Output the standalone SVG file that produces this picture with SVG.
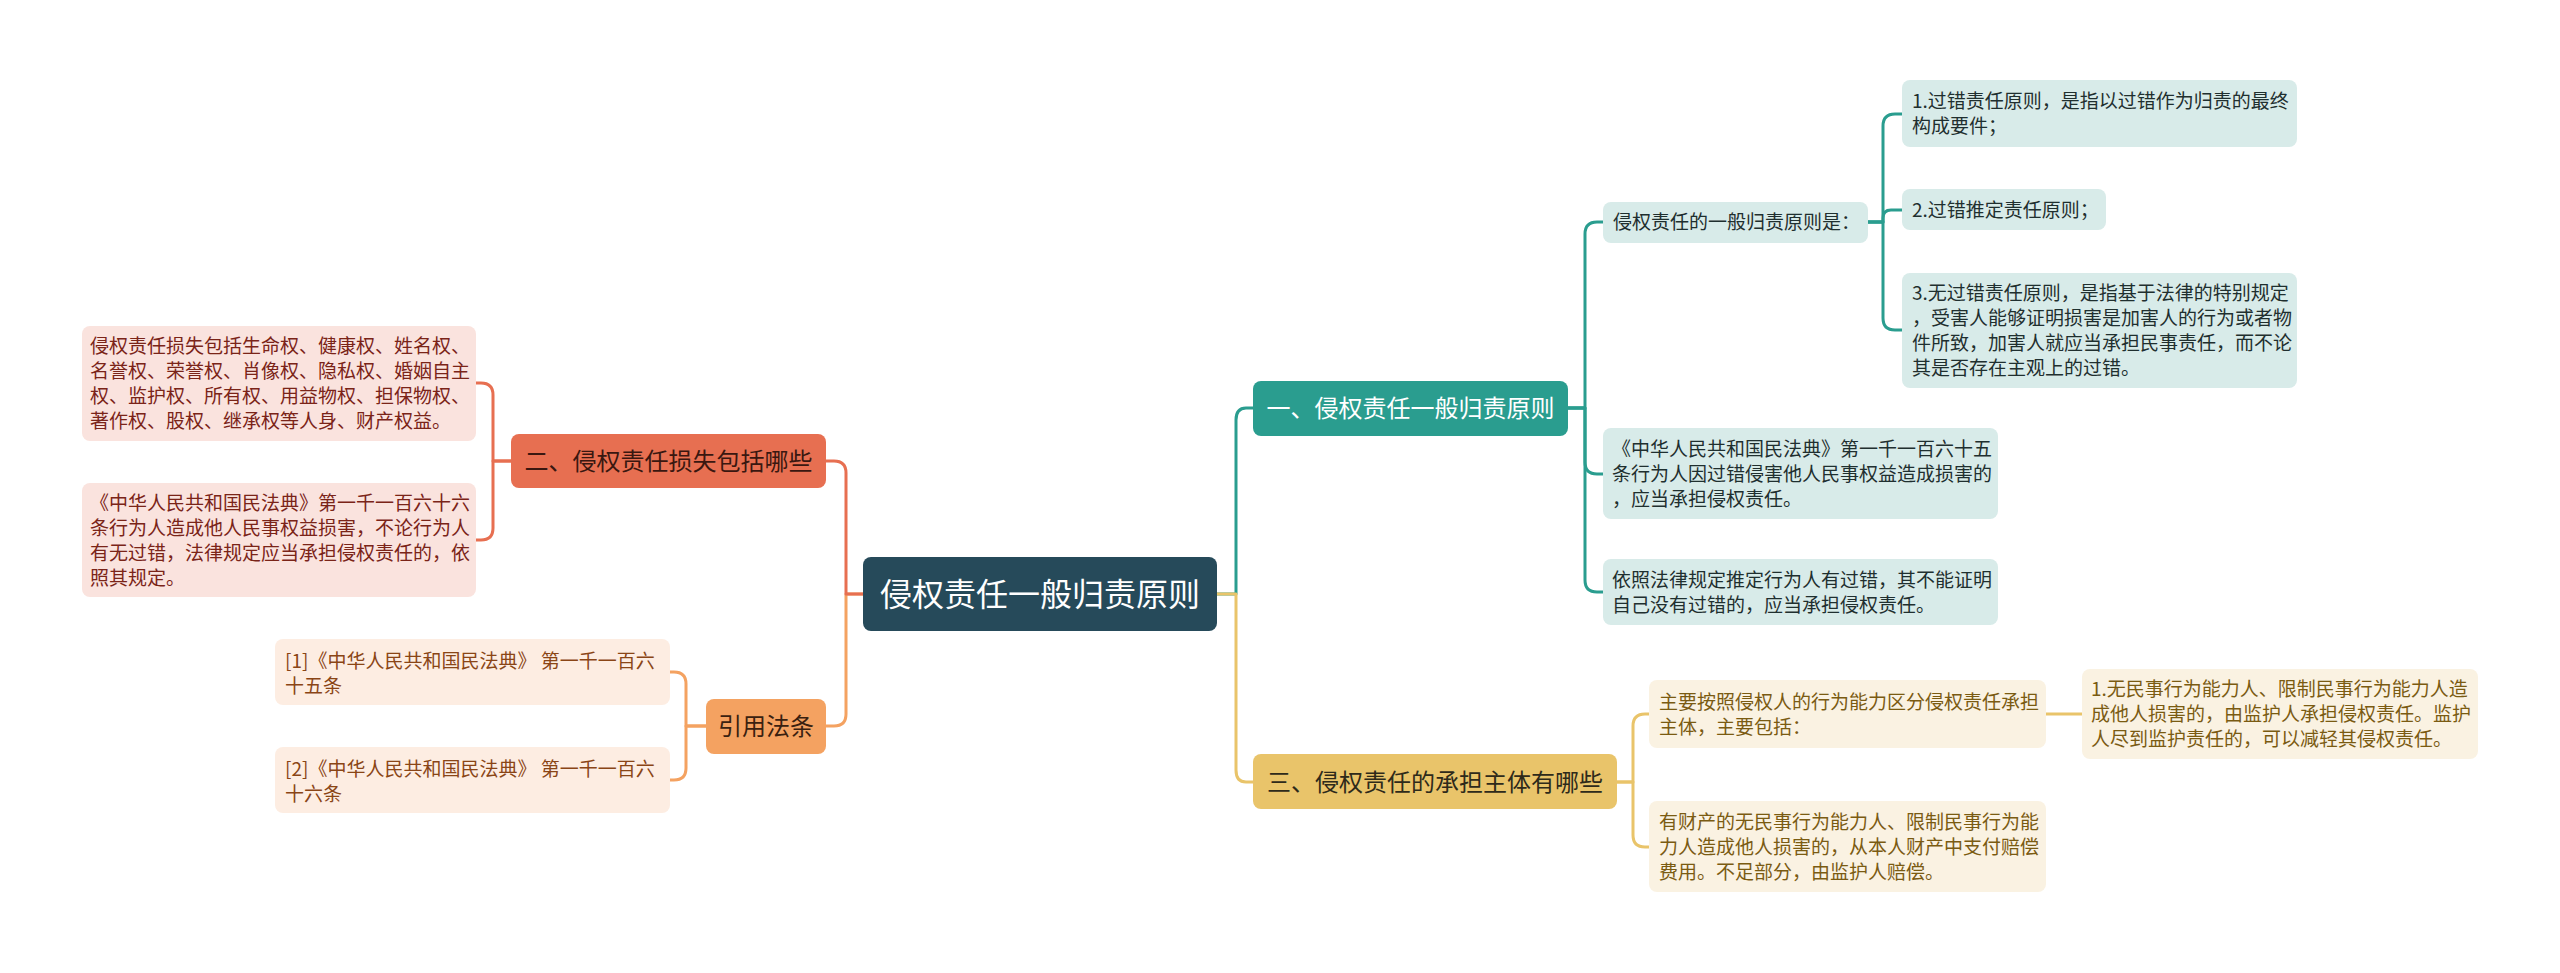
<svg xmlns="http://www.w3.org/2000/svg" width="2560" height="973" viewBox="0 0 2560 973">
<style>
text{font-family:"Noto Sans CJK SC","Noto Sans",sans-serif;}
.leaf{font-size:19px;}
.br{font-size:24px;text-anchor:middle;}
.root{font-size:32px;text-anchor:middle;fill:#ffffff;}
.c{fill:none;stroke-width:3;stroke-linecap:round;stroke-linejoin:round;}
.ct{stroke:#2a9d8f;}
.cy{stroke:#e9c46a;}
.cr{stroke:#e76f51;}
.co{stroke:#f4a261;}
.lt{fill:#d8ebe9;}
.ly{fill:#faf2e2;}
.lr{fill:#fae3de;}
.lo{fill:#fdede2;}
.tt{fill:#1f2f2f;}
.ty{fill:#7a5b12;}
.tr{fill:#7a2418;}
.to{fill:#8a4516;}
</style>
<rect width="2560" height="973" fill="#ffffff"/>
<g id="connectors">
<path class="c co" d="M863 594 H846 V714 Q846 726 834 726 H826"/>
<path class="c cr" d="M863 594 H846 V473 Q846 461 834 461 H826"/>
<path class="c ct" d="M1217 594 H1236 V420 Q1236 408 1246 408 H1253"/>
<path class="c cy" d="M1217 594 H1236 V770 Q1236 782 1246 782 H1253"/>
<path class="c ct" d="M1568 408 H1585 V234 Q1585 222 1597 222 H1603"/>
<path class="c ct" d="M1568 408 H1585 V462 Q1585 474 1597 474 H1603"/>
<path class="c ct" d="M1568 408 H1585 V580 Q1585 592 1597 592 H1603"/>
<path class="c ct" d="M1868 222 H1883 V126 Q1883 114 1895 114 H1902"/>
<path class="c ct" d="M1868 222 H1883 V218 Q1883 210 1891 210 H1902"/>
<path class="c ct" d="M1868 222 H1883 V318 Q1883 330 1895 330 H1902"/>
<path class="c cy" d="M1617 782 H1633 V726 Q1633 714 1645 714 H1649"/>
<path class="c cy" d="M1617 782 H1633 V835 Q1633 847 1645 847 H1649"/>
<path class="c cy" d="M2046 714 H2082"/>
<path class="c cr" d="M511 461 H493 V395 Q493 383 481 383 H476"/>
<path class="c cr" d="M511 461 H493 V528 Q493 540 481 540 H476"/>
<path class="c co" d="M706 726 H686 V684 Q686 672 674 672 H670"/>
<path class="c co" d="M706 726 H686 V768 Q686 780 674 780 H670"/>
</g>
<g id="root">
<rect x="863" y="557" width="354" height="74" rx="8" fill="#264a5a"/>
<text class="root" x="1040" y="606">侵权责任一般归责原则</text>
</g>
<g id="branch1">
<rect x="1253" y="381" width="315" height="55" rx="8" fill="#2a9d8f"/>
<text class="br" x="1410.5" y="417" fill="#ffffff">一、侵权责任一般归责原则</text>
</g>
<g id="branch3">
<rect x="1253" y="754" width="364" height="55" rx="8" fill="#e9c46a"/>
<text class="br" x="1435" y="790.5" fill="#2e2a1a">三、侵权责任的承担主体有哪些</text>
</g>
<g id="branch2">
<rect x="511" y="434" width="315" height="54" rx="8" fill="#e76f51"/>
<text class="br" x="668.5" y="469.5" fill="#3a1710">二、侵权责任损失包括哪些</text>
</g>
<g id="branch4">
<rect x="706" y="699" width="120" height="55" rx="8" fill="#f4a261"/>
<text class="br" x="766" y="735" fill="#3a2110">引用法条</text>
</g>
<g id="t-principle">
<rect class="lt" x="1603" y="202" width="265" height="41" rx="8"/>
<text class="leaf tt" x="1613" y="229">侵权责任的一般归责原则是：</text>
</g>
<g id="t-p1">
<rect class="lt" x="1902" y="80" width="395" height="67" rx="8"/>
<text class="leaf tt" x="1912" y="108">1.过错责任原则，是指以过错作为归责的最终</text>
<text class="leaf tt" x="1912" y="133">构成要件；</text>
</g>
<g id="t-p2">
<rect class="lt" x="1902" y="189" width="204" height="41" rx="8"/>
<text class="leaf tt" x="1912" y="217">2.过错推定责任原则；</text>
</g>
<g id="t-p3">
<rect class="lt" x="1902" y="273" width="395" height="115" rx="8"/>
<text class="leaf tt" x="1912" y="300">3.无过错责任原则，是指基于法律的特别规定</text>
<text class="leaf tt" x="1912" y="325">，受害人能够证明损害是加害人的行为或者物</text>
<text class="leaf tt" x="1912" y="350">件所致，加害人就应当承担民事责任，而不论</text>
<text class="leaf tt" x="1912" y="375">其是否存在主观上的过错。</text>
</g>
<g id="t-1165">
<rect class="lt" x="1603" y="428" width="395" height="91" rx="8"/>
<text class="leaf tt" x="1612" y="455.5">《中华人民共和国民法典》第一千一百六十五</text>
<text class="leaf tt" x="1612" y="480.5">条行为人因过错侵害他人民事权益造成损害的</text>
<text class="leaf tt" x="1612" y="505.5">，应当承担侵权责任。</text>
</g>
<g id="t-presume">
<rect class="lt" x="1603" y="559" width="395" height="66" rx="8"/>
<text class="leaf tt" x="1612" y="586.5">依照法律规定推定行为人有过错，其不能证明</text>
<text class="leaf tt" x="1612" y="611.5">自己没有过错的，应当承担侵权责任。</text>
</g>
<g id="y-main">
<rect class="ly" x="1649" y="680" width="397" height="68" rx="8"/>
<text class="leaf ty" x="1659" y="708.5">主要按照侵权人的行为能力区分侵权责任承担</text>
<text class="leaf ty" x="1659" y="733.5">主体，主要包括：</text>
</g>
<g id="y-1">
<rect class="ly" x="2082" y="669" width="396" height="90" rx="8"/>
<text class="leaf ty" x="2091" y="696">1.无民事行为能力人、限制民事行为能力人造</text>
<text class="leaf ty" x="2091" y="721">成他人损害的，由监护人承担侵权责任。监护</text>
<text class="leaf ty" x="2091" y="746">人尽到监护责任的，可以减轻其侵权责任。</text>
</g>
<g id="y-2">
<rect class="ly" x="1649" y="801" width="397" height="91" rx="8"/>
<text class="leaf ty" x="1659" y="828.5">有财产的无民事行为能力人、限制民事行为能</text>
<text class="leaf ty" x="1659" y="853.5">力人造成他人损害的，从本人财产中支付赔偿</text>
<text class="leaf ty" x="1659" y="878.5">费用。不足部分，由监护人赔偿。</text>
</g>
<g id="r-1">
<rect class="lr" x="82" y="326" width="394" height="115" rx="8"/>
<text class="leaf tr" x="90" y="353">侵权责任损失包括生命权、健康权、姓名权、</text>
<text class="leaf tr" x="90" y="378">名誉权、荣誉权、肖像权、隐私权、婚姻自主</text>
<text class="leaf tr" x="90" y="403">权、监护权、所有权、用益物权、担保物权、</text>
<text class="leaf tr" x="90" y="428">著作权、股权、继承权等人身、财产权益。</text>
</g>
<g id="r-2">
<rect class="lr" x="82" y="483" width="394" height="114" rx="8"/>
<text class="leaf tr" x="90" y="510">《中华人民共和国民法典》第一千一百六十六</text>
<text class="leaf tr" x="90" y="535">条行为人造成他人民事权益损害，不论行为人</text>
<text class="leaf tr" x="90" y="560">有无过错，法律规定应当承担侵权责任的，依</text>
<text class="leaf tr" x="90" y="585">照其规定。</text>
</g>
<g id="o-1">
<rect class="lo" x="275" y="639" width="395" height="66" rx="8"/>
<text class="leaf to" x="285" y="668">[1]《中华人民共和国民法典》 第一千一百六</text>
<text class="leaf to" x="285" y="693">十五条</text>
</g>
<g id="o-2">
<rect class="lo" x="275" y="747" width="395" height="66" rx="8"/>
<text class="leaf to" x="285" y="776">[2]《中华人民共和国民法典》 第一千一百六</text>
<text class="leaf to" x="285" y="801">十六条</text>
</g>
</svg>
